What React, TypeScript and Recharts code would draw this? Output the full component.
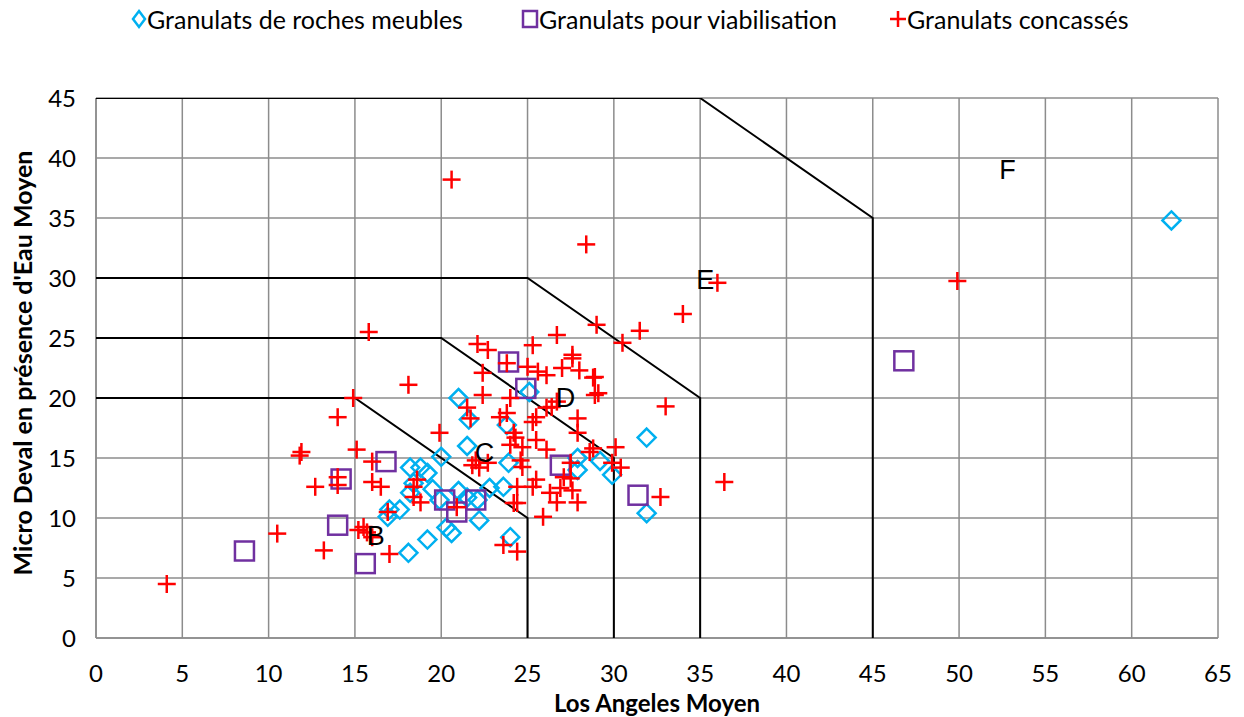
import * as React from 'react'
import { ScatterChart, Scatter, XAxis, YAxis, CartesianGrid } from 'recharts'

document.body.style.margin = '0'

// Granulats de roches meubles (cyan diamonds)
const rochesMeubles = [
    { x: 62.3, y: 34.8 }, { x: 31.9, y: 16.7 }, { x: 31.9, y: 10.4 }, { x: 27.9, y: 15.0 },
    { x: 27.9, y: 14.0 }, { x: 29.2, y: 14.75 }, { x: 29.9, y: 13.6 }, { x: 21.0, y: 20.0 },
    { x: 21.6, y: 18.2 }, { x: 23.8, y: 17.75 }, { x: 21.5, y: 16.0 }, { x: 20.0, y: 15.1 },
    { x: 18.8, y: 14.2 }, { x: 19.2, y: 13.75 }, { x: 23.9, y: 14.6 }, { x: 25.1, y: 20.5 },
    { x: 18.2, y: 14.2 }, { x: 18.4, y: 12.9 }, { x: 18.2, y: 12.1 }, { x: 19.5, y: 12.4 },
    { x: 19.9, y: 11.5 }, { x: 21.0, y: 12.25 }, { x: 21.5, y: 11.7 }, { x: 22.1, y: 11.5 },
    { x: 22.8, y: 12.5 }, { x: 23.6, y: 12.6 }, { x: 22.2, y: 9.8 }, { x: 20.3, y: 9.2 },
    { x: 20.6, y: 8.75 }, { x: 19.2, y: 8.2 }, { x: 18.1, y: 7.1 }, { x: 24.0, y: 8.4 },
    { x: 17.0, y: 10.7 }, { x: 17.6, y: 10.7 }, { x: 16.9, y: 10.1 },
]

// Granulats pour viabilisation (purple squares)
const viabilisation = [
    { x: 8.6, y: 7.25 }, { x: 14.0, y: 9.4 }, { x: 14.2, y: 13.25 }, { x: 15.6, y: 6.2 },
    { x: 16.8, y: 14.7 }, { x: 20.2, y: 11.5 }, { x: 20.9, y: 10.5 }, { x: 22.0, y: 11.5 },
    { x: 23.9, y: 23.0 }, { x: 24.9, y: 20.8 }, { x: 26.9, y: 14.4 }, { x: 31.4, y: 11.9 },
    { x: 46.8, y: 23.1 },
]

// Granulats concassés (red crosses)
const concasses = [
    { x: 4.1, y: 4.5 }, { x: 10.5, y: 8.7 }, { x: 11.9, y: 15.5 }, { x: 11.8, y: 15.2 },
    { x: 12.7, y: 12.6 }, { x: 13.2, y: 7.3 }, { x: 14.0, y: 18.4 }, { x: 14.0, y: 13.4 },
    { x: 14.0, y: 12.75 }, { x: 14.9, y: 20.0 }, { x: 15.1, y: 15.7 }, { x: 15.8, y: 25.5 },
    { x: 16.0, y: 14.7 }, { x: 16.0, y: 13.0 }, { x: 16.5, y: 12.6 }, { x: 15.2, y: 9.0 },
    { x: 15.5, y: 9.25 }, { x: 15.7, y: 8.8 }, { x: 16.0, y: 8.4 }, { x: 16.9, y: 10.5 },
    { x: 17.0, y: 7.0 }, { x: 18.1, y: 21.1 }, { x: 18.4, y: 12.6 }, { x: 18.4, y: 11.75 },
    { x: 18.6, y: 13.2 }, { x: 18.8, y: 11.3 }, { x: 19.9, y: 17.1 }, { x: 20.6, y: 38.2 },
    { x: 20.9, y: 10.9 }, { x: 21.5, y: 19.2 }, { x: 21.7, y: 18.3 }, { x: 21.8, y: 14.4 },
    { x: 22.2, y: 14.2 }, { x: 22.7, y: 14.6 }, { x: 22.0, y: 14.8 }, { x: 22.1, y: 24.5 },
    { x: 22.7, y: 24.0 }, { x: 22.4, y: 22.1 }, { x: 22.4, y: 20.25 }, { x: 23.4, y: 18.4 },
    { x: 23.8, y: 18.75 }, { x: 24.0, y: 20.0 }, { x: 23.8, y: 22.9 }, { x: 23.6, y: 7.75 },
    { x: 24.4, y: 7.2 }, { x: 24.2, y: 17.1 }, { x: 24.3, y: 16.7 }, { x: 24.0, y: 16.1 },
    { x: 24.7, y: 15.9 }, { x: 24.6, y: 14.8 }, { x: 24.7, y: 14.25 }, { x: 24.4, y: 12.6 },
    { x: 24.4, y: 11.25 }, { x: 24.2, y: 11.25 }, { x: 25.0, y: 22.6 }, { x: 25.6, y: 22.2 },
    { x: 25.3, y: 24.4 }, { x: 26.1, y: 21.9 }, { x: 26.7, y: 25.25 }, { x: 27.0, y: 22.5 },
    { x: 27.6, y: 23.6 }, { x: 28.0, y: 22.3 }, { x: 28.8, y: 21.7 }, { x: 25.5, y: 18.4 },
    { x: 25.3, y: 18.0 }, { x: 26.1, y: 19.2 }, { x: 26.4, y: 19.25 }, { x: 25.5, y: 16.5 },
    { x: 26.1, y: 15.7 }, { x: 25.9, y: 10.1 }, { x: 25.3, y: 12.6 }, { x: 25.5, y: 13.2 },
    { x: 26.3, y: 12.1 }, { x: 26.7, y: 11.3 }, { x: 26.9, y: 12.5 }, { x: 27.5, y: 13.3 },
    { x: 27.1, y: 13.4 }, { x: 27.6, y: 12.3 }, { x: 27.9, y: 11.3 }, { x: 27.5, y: 14.6 },
    { x: 27.6, y: 23.3 }, { x: 28.9, y: 21.75 }, { x: 29.1, y: 20.4 }, { x: 28.9, y: 20.25 },
    { x: 27.9, y: 18.3 }, { x: 27.9, y: 17.1 }, { x: 28.6, y: 15.5 }, { x: 28.8, y: 15.8 },
    { x: 30.1, y: 15.9 }, { x: 29.9, y: 14.6 }, { x: 30.4, y: 14.2 }, { x: 29.0, y: 26.1 },
    { x: 30.5, y: 24.6 }, { x: 31.5, y: 25.6 }, { x: 34.0, y: 27.0 }, { x: 28.4, y: 32.8 },
    { x: 36.0, y: 29.6 }, { x: 33.0, y: 19.3 }, { x: 32.7, y: 11.75 }, { x: 36.4, y: 13.0 },
    { x: 49.9, y: 29.75 }, { x: 26.7, y: 19.7 },
]

// class boundaries
const limitB = [{ x: 0, y: 20 }, { x: 15, y: 20 }, { x: 25, y: 10 }, { x: 25, y: -0.4 }]
const limitC = [{ x: 0, y: 25 }, { x: 20, y: 25 }, { x: 30, y: 15 }, { x: 30, y: -0.4 }]
const limitD = [{ x: 0, y: 30 }, { x: 25, y: 30 }, { x: 35, y: 20 }, { x: 35, y: -0.4 }]
const limitE = [{ x: 0, y: 45 }, { x: 35, y: 45 }, { x: 45, y: 35 }, { x: 45, y: -0.4 }]

const zoneLabels = [
    { x: 16.2, y: 8.5, name: 'B' },
    { x: 22.5, y: 15.4, name: 'C' },
    { x: 27.2, y: 20.0, name: 'D' },
    { x: 35.3, y: 29.8, name: 'E' },
    { x: 52.8, y: 39.0, name: 'F' },
]

const xTicks = [0, 5, 10, 15, 20, 25, 30, 35, 40, 45, 50, 55, 60, 65]
const yTicks = [0, 5, 10, 15, 20, 25, 30, 35, 40, 45]

const FONT = 'Lato, "Open Sans", sans-serif'
const CYAN = '#00B0F0'
const PURPLE = '#7030A0'
const RED = '#FF0000'

const Diamond = (props: any) => {
    const { cx, cy } = props
    const r = 9
    return (
        <path
            d={`M${cx},${cy - r} L${cx + r},${cy} L${cx},${cy + r} L${cx - r},${cy} Z`}
            fill="none"
            stroke={CYAN}
            strokeWidth={2.5}
        />
    )
}

const Square = (props: any) => {
    const { cx, cy } = props
    const r = 9.5
    return <rect x={cx - r} y={cy - r} width={r * 2} height={r * 2} fill="none" stroke={PURPLE} strokeWidth={2.5} />
}

const Cross = (props: any) => {
    const { cx, cy } = props
    const r = 9
    return (
        <g stroke={RED} strokeWidth={2.5}>
            <line x1={cx - r} y1={cy} x2={cx + r} y2={cy} />
            <line x1={cx} y1={cy - r} x2={cx} y2={cy + r} />
        </g>
    )
}

const ZoneText = (props: any) => {
    const { cx, cy, payload } = props
    return (
        <text x={cx} y={cy} textAnchor="middle" dominantBaseline="central" fontSize={27} fontFamily='"Liberation Sans", Arial, sans-serif' fill="#000">
            {payload.name}
        </text>
    )
}

const NoDot = () => null

const legendItem = (icon: React.ReactNode, label: string, left: number) => (
    <div style={{ position: 'absolute', left, top: 4, display: 'flex', alignItems: 'center', fontFamily: FONT, fontSize: 25, color: '#000', whiteSpace: 'nowrap' }}>
        {icon}
        <span style={{ marginLeft: 0 }}>{label}</span>
    </div>
)

export default function App() {
    return (
        <div style={{ position: 'relative', width: 1244, height: 717, background: '#fff' }}>
            <ScatterChart width={1244} height={717} margin={{ top: 98, right: 26, bottom: 19, left: 36 }}>
                <CartesianGrid stroke="#8c8c8c" strokeWidth={1.5} />
                <XAxis
                    type="number"
                    dataKey="x"
                    domain={[0, 65]}
                    ticks={xTicks}
                    interval={0}
                    height={60}
                    tickLine={false}
                    tickSize={0}
                    tickMargin={27}
                    axisLine={{ stroke: '#8c8c8c', strokeWidth: 1.5 }}
                    tick={{ fill: '#000', fontSize: 24, fontFamily: FONT }}
                    allowDataOverflow
                />
                <YAxis
                    type="number"
                    dataKey="y"
                    domain={[0, 45]}
                    ticks={yTicks}
                    interval={0}
                    width={60}
                    tickLine={false}
                    tickSize={0}
                    tickMargin={20}
                    axisLine={{ stroke: '#8c8c8c', strokeWidth: 1.5 }}
                    tick={{ fill: '#000', fontSize: 24, fontFamily: FONT }}
                    allowDataOverflow
                />
                <Scatter data={limitB} line={{ stroke: '#000', strokeWidth: 2 }} shape={NoDot} isAnimationActive={false} />
                <Scatter data={limitC} line={{ stroke: '#000', strokeWidth: 2 }} shape={NoDot} isAnimationActive={false} />
                <Scatter data={limitD} line={{ stroke: '#000', strokeWidth: 2 }} shape={NoDot} isAnimationActive={false} />
                <Scatter data={limitE} line={{ stroke: '#000', strokeWidth: 2 }} shape={NoDot} isAnimationActive={false} />
                <Scatter name="Granulats de roches meubles" data={rochesMeubles} shape={Diamond} isAnimationActive={false} />
                <Scatter name="Granulats pour viabilisation" data={viabilisation} shape={Square} isAnimationActive={false} />
                <Scatter name="Granulats concassés" data={concasses} shape={Cross} isAnimationActive={false} />
                <Scatter data={zoneLabels} shape={ZoneText} isAnimationActive={false} />
            </ScatterChart>

            {legendItem(
                <svg width={16} height={22}><path d="M8,3 L14,11 L8,19 L2,11 Z" fill="none" stroke={CYAN} strokeWidth={2.5} /></svg>,
                'Granulats de roches meubles', 131
            )}
            {legendItem(
                <svg width={18} height={22}><rect x={2} y={3} width={14} height={16} fill="none" stroke={PURPLE} strokeWidth={2.5} /></svg>,
                'Granulats pour viabilisation', 521
            )}
            {legendItem(
                <svg width={18} height={22}><g stroke={RED} strokeWidth={2.5}><line x1={1} y1={11} x2={17} y2={11} /><line x1={9} y1={3} x2={9} y2={19} /></g></svg>,
                'Granulats concassés', 889
            )}

            <div style={{ position: 'absolute', left: 0, top: 688, width: 1314, textAlign: 'center', fontFamily: FONT, fontWeight: 700, fontSize: 24, lineHeight: '30px', color: '#000' }}>
                Los Angeles Moyen
            </div>
            <div style={{ position: 'absolute', left: 22, top: 363, transform: 'translate(-50%, -50%) rotate(-90deg)', fontFamily: FONT, fontWeight: 700, fontSize: 25, color: '#000', whiteSpace: 'nowrap' }}>
                Micro Deval en présence d'Eau Moyen
            </div>
        </div>
    )
}
